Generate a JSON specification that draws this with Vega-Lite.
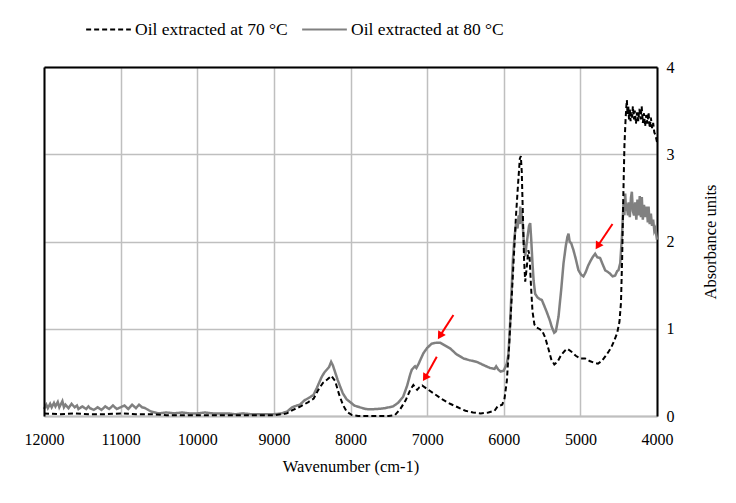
{
  "$schema": "https://vega.github.io/schema/vega-lite/v6.json",
  "width": 613,
  "height": 349,
  "autosize": {"type": "none"},
  "padding": {"left": 44, "top": 67, "right": 79, "bottom": 87},
  "background": "white",
  "config": {
    "view": {"stroke": null},
    "font": "Liberation Serif",
    "axis": {
      "labelFont": "Liberation Serif",
      "titleFont": "Liberation Serif",
      "labelFontSize": 16,
      "titleFontSize": 16.5,
      "titleFontWeight": "normal",
      "labelColor": "black",
      "titleColor": "black",
      "ticks": false,
      "labelFlush": false,
      "labelOverlap": false,
      "labelBound": false,
      "gridColor": "#bfbfbf",
      "gridWidth": 1.5,
      "gridOpacity": 1
    },
    "legend": {"labelFont": "Liberation Serif", "titleFont": "Liberation Serif"}
  },
  "datasets": {
    "spectra": [
      {"s": "70", "w": 12000, "a": 0.03}, {"s": "70", "w": 11800, "a": 0.02}, {"s": "70", "w": 11600, "a": 0.03},
      {"s": "70", "w": 11400, "a": 0.02}, {"s": "70", "w": 11200, "a": 0.02}, {"s": "70", "w": 11000, "a": 0.03},
      {"s": "70", "w": 10800, "a": 0.02}, {"s": "70", "w": 10600, "a": 0.02}, {"s": "70", "w": 10400, "a": 0.01},
      {"s": "70", "w": 10200, "a": 0.01}, {"s": "70", "w": 10000, "a": 0.01}, {"s": "70", "w": 9800, "a": 0.01},
      {"s": "70", "w": 9600, "a": 0.01}, {"s": "70", "w": 9400, "a": 0.01}, {"s": "70", "w": 9200, "a": 0.01},
      {"s": "70", "w": 9000, "a": 0.01}, {"s": "70", "w": 8900, "a": 0.02}, {"s": "70", "w": 8830, "a": 0.03},
      {"s": "70", "w": 8750, "a": 0.07}, {"s": "70", "w": 8650, "a": 0.11}, {"s": "70", "w": 8550, "a": 0.16},
      {"s": "70", "w": 8480, "a": 0.2}, {"s": "70", "w": 8420, "a": 0.3}, {"s": "70", "w": 8360, "a": 0.38},
      {"s": "70", "w": 8300, "a": 0.42}, {"s": "70", "w": 8250, "a": 0.46}, {"s": "70", "w": 8200, "a": 0.4},
      {"s": "70", "w": 8150, "a": 0.25}, {"s": "70", "w": 8100, "a": 0.13}, {"s": "70", "w": 8050, "a": 0.05},
      {"s": "70", "w": 7980, "a": 0.01}, {"s": "70", "w": 7900, "a": 0.0}, {"s": "70", "w": 7700, "a": 0.0},
      {"s": "70", "w": 7500, "a": 0.0}, {"s": "70", "w": 7420, "a": 0.01}, {"s": "70", "w": 7350, "a": 0.08},
      {"s": "70", "w": 7280, "a": 0.18}, {"s": "70", "w": 7220, "a": 0.3}, {"s": "70", "w": 7180, "a": 0.355},
      {"s": "70", "w": 7150, "a": 0.32}, {"s": "70", "w": 7130, "a": 0.3}, {"s": "70", "w": 7100, "a": 0.33},
      {"s": "70", "w": 7065, "a": 0.35}, {"s": "70", "w": 7000, "a": 0.31}, {"s": "70", "w": 6900, "a": 0.25},
      {"s": "70", "w": 6800, "a": 0.19}, {"s": "70", "w": 6700, "a": 0.14}, {"s": "70", "w": 6600, "a": 0.1},
      {"s": "70", "w": 6500, "a": 0.06}, {"s": "70", "w": 6400, "a": 0.04}, {"s": "70", "w": 6300, "a": 0.03},
      {"s": "70", "w": 6200, "a": 0.04}, {"s": "70", "w": 6120, "a": 0.06}, {"s": "70", "w": 6080, "a": 0.11},
      {"s": "70", "w": 6020, "a": 0.13}, {"s": "70", "w": 5990, "a": 0.2}, {"s": "70", "w": 5960, "a": 0.4},
      {"s": "70", "w": 5930, "a": 0.8}, {"s": "70", "w": 5900, "a": 1.3}, {"s": "70", "w": 5870, "a": 1.8},
      {"s": "70", "w": 5840, "a": 2.3}, {"s": "70", "w": 5810, "a": 2.7}, {"s": "70", "w": 5790, "a": 2.95},
      {"s": "70", "w": 5777, "a": 2.98}, {"s": "70", "w": 5765, "a": 2.8}, {"s": "70", "w": 5750, "a": 2.3},
      {"s": "70", "w": 5735, "a": 1.8}, {"s": "70", "w": 5720, "a": 1.54}, {"s": "70", "w": 5700, "a": 1.7},
      {"s": "70", "w": 5680, "a": 1.9}, {"s": "70", "w": 5665, "a": 1.85}, {"s": "70", "w": 5645, "a": 1.5},
      {"s": "70", "w": 5625, "a": 1.2}, {"s": "70", "w": 5600, "a": 1.05}, {"s": "70", "w": 5580, "a": 1.02},
      {"s": "70", "w": 5540, "a": 1.0}, {"s": "70", "w": 5500, "a": 0.98}, {"s": "70", "w": 5460, "a": 0.9},
      {"s": "70", "w": 5420, "a": 0.78}, {"s": "70", "w": 5380, "a": 0.65}, {"s": "70", "w": 5340, "a": 0.59},
      {"s": "70", "w": 5300, "a": 0.62}, {"s": "70", "w": 5250, "a": 0.7}, {"s": "70", "w": 5200, "a": 0.75},
      {"s": "70", "w": 5170, "a": 0.77}, {"s": "70", "w": 5120, "a": 0.74}, {"s": "70", "w": 5060, "a": 0.69},
      {"s": "70", "w": 5000, "a": 0.66}, {"s": "70", "w": 4940, "a": 0.66}, {"s": "70", "w": 4880, "a": 0.63},
      {"s": "70", "w": 4820, "a": 0.61}, {"s": "70", "w": 4770, "a": 0.6}, {"s": "70", "w": 4720, "a": 0.63},
      {"s": "70", "w": 4660, "a": 0.7}, {"s": "70", "w": 4600, "a": 0.78}, {"s": "70", "w": 4560, "a": 0.86},
      {"s": "70", "w": 4520, "a": 0.95}, {"s": "70", "w": 4490, "a": 1.08}, {"s": "70", "w": 4470, "a": 1.3},
      {"s": "70", "w": 4455, "a": 1.8}, {"s": "70", "w": 4440, "a": 2.5}, {"s": "70", "w": 4425, "a": 3.1},
      {"s": "70", "w": 4410, "a": 3.4}, {"s": "70", "w": 4400, "a": 3.55}, {"s": "70", "w": 4393, "a": 3.62},
      {"s": "70", "w": 4385, "a": 3.45}, {"s": "70", "w": 4375, "a": 3.55}, {"s": "70", "w": 4365, "a": 3.4},
      {"s": "70", "w": 4355, "a": 3.52}, {"s": "70", "w": 4345, "a": 3.38}, {"s": "70", "w": 4335, "a": 3.48},
      {"s": "70", "w": 4325, "a": 3.42}, {"s": "70", "w": 4315, "a": 3.55}, {"s": "70", "w": 4300, "a": 3.4},
      {"s": "70", "w": 4290, "a": 3.5}, {"s": "70", "w": 4275, "a": 3.35}, {"s": "70", "w": 4260, "a": 3.48},
      {"s": "70", "w": 4245, "a": 3.38}, {"s": "70", "w": 4230, "a": 3.52}, {"s": "70", "w": 4215, "a": 3.4},
      {"s": "70", "w": 4200, "a": 3.55}, {"s": "70", "w": 4185, "a": 3.36}, {"s": "70", "w": 4170, "a": 3.47},
      {"s": "70", "w": 4155, "a": 3.32}, {"s": "70", "w": 4140, "a": 3.45}, {"s": "70", "w": 4125, "a": 3.35},
      {"s": "70", "w": 4110, "a": 3.48}, {"s": "70", "w": 4095, "a": 3.3}, {"s": "70", "w": 4080, "a": 3.42},
      {"s": "70", "w": 4065, "a": 3.3}, {"s": "70", "w": 4050, "a": 3.36}, {"s": "70", "w": 4035, "a": 3.25},
      {"s": "70", "w": 4020, "a": 3.22}, {"s": "70", "w": 4010, "a": 3.18}, {"s": "70", "w": 4000, "a": 3.14},

      {"s": "80", "w": 12000, "a": 0.08}, {"s": "80", "w": 11970, "a": 0.13}, {"s": "80", "w": 11950, "a": 0.09},
      {"s": "80", "w": 11920, "a": 0.14}, {"s": "80", "w": 11900, "a": 0.1}, {"s": "80", "w": 11870, "a": 0.15},
      {"s": "80", "w": 11850, "a": 0.11}, {"s": "80", "w": 11820, "a": 0.16}, {"s": "80", "w": 11800, "a": 0.1},
      {"s": "80", "w": 11760, "a": 0.17}, {"s": "80", "w": 11740, "a": 0.1}, {"s": "80", "w": 11720, "a": 0.13},
      {"s": "80", "w": 11680, "a": 0.09}, {"s": "80", "w": 11640, "a": 0.14}, {"s": "80", "w": 11600, "a": 0.1},
      {"s": "80", "w": 11570, "a": 0.12}, {"s": "80", "w": 11550, "a": 0.08}, {"s": "80", "w": 11500, "a": 0.11},
      {"s": "80", "w": 11450, "a": 0.08}, {"s": "80", "w": 11420, "a": 0.11}, {"s": "80", "w": 11400, "a": 0.09},
      {"s": "80", "w": 11350, "a": 0.07}, {"s": "80", "w": 11300, "a": 0.1}, {"s": "80", "w": 11250, "a": 0.07},
      {"s": "80", "w": 11200, "a": 0.11}, {"s": "80", "w": 11150, "a": 0.08}, {"s": "80", "w": 11100, "a": 0.12},
      {"s": "80", "w": 11050, "a": 0.08}, {"s": "80", "w": 11000, "a": 0.1}, {"s": "80", "w": 10950, "a": 0.12},
      {"s": "80", "w": 10900, "a": 0.08}, {"s": "80", "w": 10850, "a": 0.13}, {"s": "80", "w": 10800, "a": 0.09},
      {"s": "80", "w": 10760, "a": 0.13}, {"s": "80", "w": 10720, "a": 0.1}, {"s": "80", "w": 10680, "a": 0.09},
      {"s": "80", "w": 10640, "a": 0.07}, {"s": "80", "w": 10600, "a": 0.05}, {"s": "80", "w": 10550, "a": 0.04},
      {"s": "80", "w": 10500, "a": 0.03}, {"s": "80", "w": 10400, "a": 0.04}, {"s": "80", "w": 10300, "a": 0.03},
      {"s": "80", "w": 10200, "a": 0.04}, {"s": "80", "w": 10100, "a": 0.03}, {"s": "80", "w": 10000, "a": 0.03},
      {"s": "80", "w": 9900, "a": 0.04}, {"s": "80", "w": 9800, "a": 0.03}, {"s": "80", "w": 9700, "a": 0.03},
      {"s": "80", "w": 9600, "a": 0.03}, {"s": "80", "w": 9500, "a": 0.02}, {"s": "80", "w": 9400, "a": 0.03},
      {"s": "80", "w": 9300, "a": 0.02}, {"s": "80", "w": 9200, "a": 0.02}, {"s": "80", "w": 9100, "a": 0.02},
      {"s": "80", "w": 9000, "a": 0.02}, {"s": "80", "w": 8900, "a": 0.03}, {"s": "80", "w": 8830, "a": 0.05},
      {"s": "80", "w": 8760, "a": 0.1}, {"s": "80", "w": 8700, "a": 0.12}, {"s": "80", "w": 8660, "a": 0.13},
      {"s": "80", "w": 8600, "a": 0.18}, {"s": "80", "w": 8540, "a": 0.21}, {"s": "80", "w": 8484, "a": 0.24},
      {"s": "80", "w": 8440, "a": 0.32}, {"s": "80", "w": 8400, "a": 0.4}, {"s": "80", "w": 8375, "a": 0.45},
      {"s": "80", "w": 8340, "a": 0.5}, {"s": "80", "w": 8310, "a": 0.53}, {"s": "80", "w": 8280, "a": 0.56},
      {"s": "80", "w": 8253, "a": 0.62}, {"s": "80", "w": 8230, "a": 0.58}, {"s": "80", "w": 8200, "a": 0.5},
      {"s": "80", "w": 8170, "a": 0.42}, {"s": "80", "w": 8136, "a": 0.34}, {"s": "80", "w": 8100, "a": 0.26},
      {"s": "80", "w": 8050, "a": 0.19}, {"s": "80", "w": 8005, "a": 0.16}, {"s": "80", "w": 7950, "a": 0.12},
      {"s": "80", "w": 7880, "a": 0.1}, {"s": "80", "w": 7800, "a": 0.08}, {"s": "80", "w": 7744, "a": 0.077},
      {"s": "80", "w": 7650, "a": 0.08}, {"s": "80", "w": 7550, "a": 0.09}, {"s": "80", "w": 7444, "a": 0.11},
      {"s": "80", "w": 7380, "a": 0.15}, {"s": "80", "w": 7313, "a": 0.22}, {"s": "80", "w": 7260, "a": 0.35},
      {"s": "80", "w": 7220, "a": 0.48}, {"s": "80", "w": 7200, "a": 0.53}, {"s": "80", "w": 7170, "a": 0.56},
      {"s": "80", "w": 7157, "a": 0.57}, {"s": "80", "w": 7140, "a": 0.55}, {"s": "80", "w": 7110, "a": 0.6},
      {"s": "80", "w": 7080, "a": 0.66}, {"s": "80", "w": 7048, "a": 0.72}, {"s": "80", "w": 7000, "a": 0.78},
      {"s": "80", "w": 6939, "a": 0.83}, {"s": "80", "w": 6880, "a": 0.84}, {"s": "80", "w": 6830, "a": 0.84},
      {"s": "80", "w": 6770, "a": 0.81}, {"s": "80", "w": 6700, "a": 0.775}, {"s": "80", "w": 6620, "a": 0.71},
      {"s": "80", "w": 6526, "a": 0.66}, {"s": "80", "w": 6450, "a": 0.64}, {"s": "80", "w": 6351, "a": 0.62},
      {"s": "80", "w": 6280, "a": 0.59}, {"s": "80", "w": 6178, "a": 0.55}, {"s": "80", "w": 6120, "a": 0.54},
      {"s": "80", "w": 6099, "a": 0.57}, {"s": "80", "w": 6070, "a": 0.53}, {"s": "80", "w": 6040, "a": 0.51},
      {"s": "80", "w": 6000, "a": 0.52}, {"s": "80", "w": 5960, "a": 0.6}, {"s": "80", "w": 5940, "a": 0.7},
      {"s": "80", "w": 5920, "a": 1.0}, {"s": "80", "w": 5900, "a": 1.4}, {"s": "80", "w": 5880, "a": 1.8},
      {"s": "80", "w": 5860, "a": 2.05}, {"s": "80", "w": 5840, "a": 2.2}, {"s": "80", "w": 5820, "a": 2.15},
      {"s": "80", "w": 5805, "a": 2.3}, {"s": "80", "w": 5790, "a": 2.2}, {"s": "80", "w": 5785, "a": 2.4},
      {"s": "80", "w": 5775, "a": 2.28}, {"s": "80", "w": 5765, "a": 2.3}, {"s": "80", "w": 5751, "a": 2.17},
      {"s": "80", "w": 5735, "a": 1.95}, {"s": "80", "w": 5720, "a": 1.83}, {"s": "80", "w": 5705, "a": 1.95},
      {"s": "80", "w": 5690, "a": 2.05}, {"s": "80", "w": 5670, "a": 2.18}, {"s": "80", "w": 5655, "a": 2.21},
      {"s": "80", "w": 5640, "a": 2.0}, {"s": "80", "w": 5625, "a": 1.75}, {"s": "80", "w": 5610, "a": 1.55},
      {"s": "80", "w": 5590, "a": 1.4}, {"s": "80", "w": 5560, "a": 1.36}, {"s": "80", "w": 5530, "a": 1.34},
      {"s": "80", "w": 5503, "a": 1.33}, {"s": "80", "w": 5470, "a": 1.26}, {"s": "80", "w": 5438, "a": 1.19},
      {"s": "80", "w": 5400, "a": 1.1}, {"s": "80", "w": 5373, "a": 1.02}, {"s": "80", "w": 5342, "a": 0.955},
      {"s": "80", "w": 5320, "a": 0.97}, {"s": "80", "w": 5285, "a": 1.14}, {"s": "80", "w": 5250, "a": 1.45},
      {"s": "80", "w": 5220, "a": 1.75}, {"s": "80", "w": 5190, "a": 1.95}, {"s": "80", "w": 5170, "a": 2.05},
      {"s": "80", "w": 5155, "a": 2.09}, {"s": "80", "w": 5140, "a": 2.0}, {"s": "80", "w": 5120, "a": 1.98},
      {"s": "80", "w": 5090, "a": 1.9}, {"s": "80", "w": 5060, "a": 1.8}, {"s": "80", "w": 5025, "a": 1.67},
      {"s": "80", "w": 4990, "a": 1.62}, {"s": "80", "w": 4960, "a": 1.6}, {"s": "80", "w": 4930, "a": 1.65},
      {"s": "80", "w": 4900, "a": 1.72}, {"s": "80", "w": 4872, "a": 1.77}, {"s": "80", "w": 4840, "a": 1.82},
      {"s": "80", "w": 4807, "a": 1.86}, {"s": "80", "w": 4780, "a": 1.82}, {"s": "80", "w": 4742, "a": 1.81},
      {"s": "80", "w": 4710, "a": 1.74}, {"s": "80", "w": 4676, "a": 1.67}, {"s": "80", "w": 4640, "a": 1.65},
      {"s": "80", "w": 4611, "a": 1.63}, {"s": "80", "w": 4580, "a": 1.6}, {"s": "80", "w": 4546, "a": 1.61},
      {"s": "80", "w": 4520, "a": 1.66}, {"s": "80", "w": 4503, "a": 1.67}, {"s": "80", "w": 4480, "a": 1.75},
      {"s": "80", "w": 4458, "a": 2.05}, {"s": "80", "w": 4437, "a": 2.44}, {"s": "80", "w": 4425, "a": 2.3},
      {"s": "80", "w": 4415, "a": 2.55}, {"s": "80", "w": 4405, "a": 2.38}, {"s": "80", "w": 4393, "a": 2.4},
      {"s": "80", "w": 4380, "a": 2.3}, {"s": "80", "w": 4370, "a": 2.45}, {"s": "80", "w": 4355, "a": 2.28},
      {"s": "80", "w": 4340, "a": 2.5}, {"s": "80", "w": 4328, "a": 2.57}, {"s": "80", "w": 4315, "a": 2.35},
      {"s": "80", "w": 4300, "a": 2.3}, {"s": "80", "w": 4285, "a": 2.45}, {"s": "80", "w": 4270, "a": 2.25},
      {"s": "80", "w": 4255, "a": 2.48}, {"s": "80", "w": 4240, "a": 2.3}, {"s": "80", "w": 4225, "a": 2.52},
      {"s": "80", "w": 4210, "a": 2.28}, {"s": "80", "w": 4198, "a": 2.51}, {"s": "80", "w": 4185, "a": 2.25},
      {"s": "80", "w": 4170, "a": 2.42}, {"s": "80", "w": 4150, "a": 2.28}, {"s": "80", "w": 4135, "a": 2.4},
      {"s": "80", "w": 4120, "a": 2.22}, {"s": "80", "w": 4110, "a": 2.4}, {"s": "80", "w": 4095, "a": 2.2},
      {"s": "80", "w": 4080, "a": 2.32}, {"s": "80", "w": 4065, "a": 2.18}, {"s": "80", "w": 4050, "a": 2.25},
      {"s": "80", "w": 4035, "a": 2.12}, {"s": "80", "w": 4020, "a": 2.15}, {"s": "80", "w": 4010, "a": 2.08},
      {"s": "80", "w": 4000, "a": 2.02}
    ],
    "arrows": [
      {"x1": 6657, "y1": 1.157, "xh": 6824, "yh": 0.93},
      {"x1": 6874, "y1": 0.68, "xh": 7019, "yh": 0.45},
      {"x1": 4581, "y1": 2.2, "xh": 4765, "yh": 1.96}
    ]
  },
  "layer": [
    {
      "data": {"name": "spectra"},
      "encoding": {
        "x": {
          "field": "w",
          "type": "quantitative",
          "scale": {"domain": [4000, 12000], "reverse": true, "nice": false, "zero": false},
          "axis": {
            "orient": "bottom",
            "values": [4000, 5000, 6000, 7000, 8000, 9000, 10000, 11000, 12000],
            "format": "d",
            "title": "Wavenumber (cm-1)",
            "grid": true,
            "domainColor": "#bfbfbf",
            "domainWidth": 2,
            "labelPadding": 15,
            "titlePadding": 11
          }
        },
        "y": {
          "field": "a",
          "type": "quantitative",
          "scale": {"domain": [0, 4], "nice": false},
          "axis": {
            "orient": "right",
            "values": [0, 1, 2, 3, 4],
            "title": "Absorbance units",
            "grid": true,
            "domainColor": "black",
            "domainWidth": 2,
            "labelPadding": 9,
            "titleAngle": 270,
            "titlePadding": 44
          }
        },
        "color": {
          "field": "s",
          "type": "nominal",
          "scale": {"domain": ["70", "80"], "range": ["black", "#808080"]},
          "legend": {
            "orient": "none",
            "legendX": 41,
            "legendY": -61,
            "direction": "horizontal",
            "title": null,
            "symbolType": "stroke",
            "symbolSize": 2000,
            "symbolStrokeWidth": 2,
            "labelFontSize": 17.5,
            "labelColor": "black",
            "labelOffset": 3,
            "columnPadding": 10,
            "padding": 0,
            "labelExpr": "'Oil extracted at ' + datum.label + ' °C'"
          }
        },
        "strokeDash": {
          "field": "s",
          "type": "nominal",
          "scale": {"domain": ["70", "80"], "range": [[5, 3], [1, 0]]},
          "legend": {
            "orient": "none",
            "legendX": 41,
            "legendY": -61,
            "direction": "horizontal",
            "title": null,
            "symbolType": "stroke",
            "symbolSize": 2000,
            "symbolStrokeWidth": 2,
            "labelFontSize": 17.5,
            "labelColor": "black",
            "labelOffset": 3,
            "columnPadding": 10,
            "padding": 0,
            "labelExpr": "'Oil extracted at ' + datum.label + ' °C'"
          }
        }
      },
      "layer": [
        {
          "transform": [{"filter": "datum.s == '80'"}],
          "mark": {"type": "line", "strokeWidth": 2.5}
        },
        {
          "transform": [{"filter": "datum.s == '70'"}],
          "mark": {"type": "line", "strokeWidth": 2}
        }
      ]
    },
    {
      "data": {"name": "arrows"},
      "layer": [
        {
          "mark": {"type": "rule", "color": "#ff0000", "strokeWidth": 2},
          "encoding": {
            "x": {
              "field": "x1",
              "type": "quantitative",
              "scale": {"domain": [4000, 12000], "reverse": true, "nice": false, "zero": false},
              "axis": {"orient": "top", "labels": false, "grid": false, "title": null, "domainColor": "black", "domainWidth": 2, "zindex": 1}
            },
            "x2": {"field": "xh"},
            "y": {
              "field": "y1",
              "type": "quantitative",
              "scale": {"domain": [0, 4], "nice": false},
              "axis": {"orient": "left", "labels": false, "grid": false, "title": null, "domainColor": "black", "domainWidth": 2, "zindex": 1}
            },
            "y2": {"field": "yh"}
          }
        },
        {
          "mark": {"type": "point", "shape": "triangle", "filled": true, "color": "#ff0000", "opacity": 1, "size": 80, "angle": 212},
          "encoding": {
            "x": {"field": "xh", "type": "quantitative", "scale": {"domain": [4000, 12000], "reverse": true, "nice": false, "zero": false}},
            "y": {"field": "yh", "type": "quantitative", "scale": {"domain": [0, 4], "nice": false}}
          }
        }
      ]
    }
  ],
  "resolve": {"axis": {"x": "independent", "y": "independent"}}
}
